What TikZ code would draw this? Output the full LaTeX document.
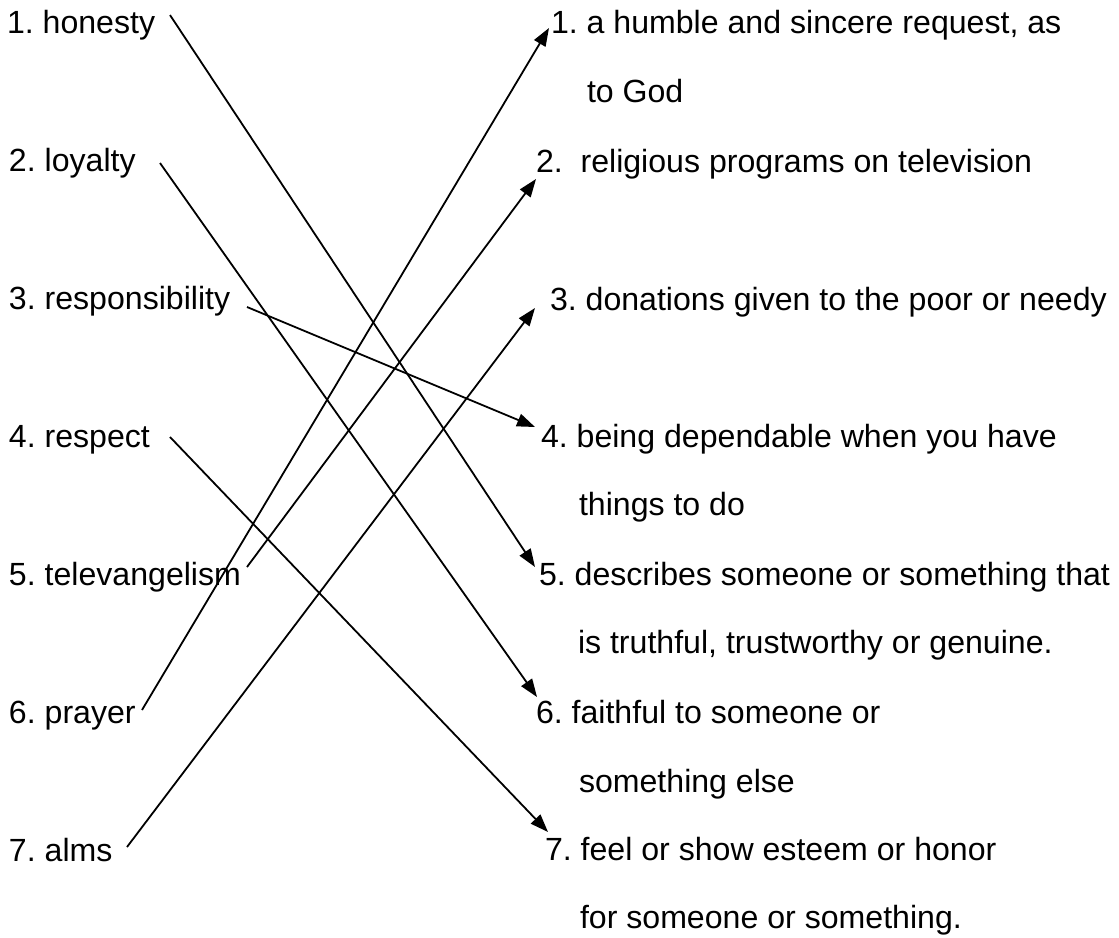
\documentclass[tikz,border=0pt]{standalone}
\usepackage{fontspec}
\setmainfont{Liberation Sans}
\usetikzlibrary{arrows.meta}
\frenchspacing
\begin{document}
\begin{tikzpicture}[x=1pt,y=-1pt,
  lbl/.style={anchor=base west, inner sep=0pt, outer sep=0pt, font=\fontsize{32.1}{38}\selectfont\frenchspacing},
  link/.style={line width=1.8pt, -{Triangle[length=18pt,width=13pt]}}]
\useasboundingbox (0,0) rectangle (1119,937);
% left column
\node[lbl] (l1) at (7,33)  {1. honesty};
\node[lbl] (l2) at (9,171) {2. loyalty};
\node[lbl] (l3) at (9,309) {3. responsibility};
\node[lbl] (l4) at (9,447) {4. respect};
\node[lbl] (l5) at (9,585) {5. televangelism};
\node[lbl] (l6) at (9,723) {6. prayer};
\node[lbl] (l7) at (9,861) {7. alms};
% right column
\node[lbl] (r1)  at (551,33)  {1. a humble and sincere request, as};
\node[lbl] (r1b) at (587,102) {to God};
\node[lbl] (r2)  at (536,172) {2.\ \ religious programs on television};
\node[lbl] (r3)  at (550,310) {3. donations given to the poor or needy};
\node[lbl] (r4)  at (541,447) {4. being dependable when you have};
\node[lbl] (r4b) at (579,515) {things to do};
\node[lbl] (r5)  at (539,585) {5. describes someone or something that};
\node[lbl] (r5b) at (578,653) {is truthful, trustworthy or genuine.};
\node[lbl] (r6)  at (536,723) {6. faithful to someone or};
\node[lbl] (r6b) at (579,792) {something else};
\node[lbl] (r7)  at (545,860) {7. feel or show esteem or honor};
\node[lbl] (r7b) at (580,928) {for someone or something.};
% connector ends
\coordinate (sHon) at (170,15);
\coordinate (sLoy) at (160,163);
\coordinate (sRes) at (247,307);
\coordinate (sRsp) at (170,437);
\coordinate (sTel) at (247,567);
\coordinate (sPra) at (142,710);
\coordinate (sAlm) at (127,847);
\coordinate (t1) at (549,28);
\coordinate (t2) at (536,179);
\coordinate (t3) at (535,308);
\coordinate (t4) at (535,427);
\coordinate (t5) at (535,567);
\coordinate (t6) at (537,697);
\coordinate (t7) at (548,832);
% connectors
\draw[link] (sHon) -- (t5);
\draw[link] (sLoy) -- (t6);
\draw[link] (sRes) -- (t4);
\draw[link] (sRsp) -- (t7);
\draw[link] (sTel) -- (t2);
\draw[link] (sPra) -- (t1);
\draw[link] (sAlm) -- (t3);
\end{tikzpicture}
\end{document}
